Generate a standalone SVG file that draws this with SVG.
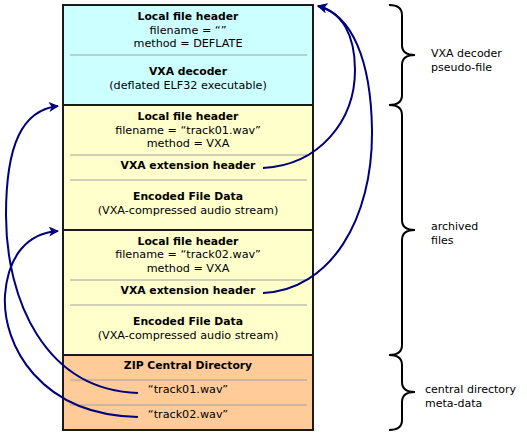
<svg xmlns="http://www.w3.org/2000/svg" width="527" height="433" viewBox="0 0 527 433">
<style>
.sec{stroke:#1a1a1a;stroke-width:2}
.sep{stroke:#a0a0a0;stroke-width:1}
.b{font-family:"DejaVu Sans",Verdana,sans-serif;font-weight:bold;font-size:10.8px;text-anchor:middle;fill:#000}
.n{font-family:"DejaVu Sans",Verdana,sans-serif;font-size:11.2px;text-anchor:middle;fill:#000}
.l{font-family:"DejaVu Sans",Verdana,sans-serif;font-size:11px;fill:#000}
.brace{fill:none;stroke:#000;stroke-width:2}
.arr{fill:none;stroke:#00007f;stroke-width:2}
</style>
<defs>
<marker id="ah" viewBox="0 0 10 10" refX="9" refY="5" markerWidth="12" markerHeight="10" markerUnits="userSpaceOnUse" orient="auto">
<path d="M0,0 L10,5 L0,10 L2.5,5 z" fill="#00007f"/>
</marker>
</defs>
<g id="decoder">
<rect class="sec" x="63" y="5" width="250" height="100" fill="#ccffff"/>
<line class="sep" x1="70" y1="55" x2="307" y2="55"/>
<text class="b" x="188" y="20">Local file header</text>
<text class="n" x="188" y="33.5">filename = “”</text>
<text class="n" x="188" y="47">method = DEFLATE</text>
<text class="b" x="188" y="75">VXA decoder</text>
<text class="n" x="188" y="89">(deflated ELF32 executable)</text>
</g>
<g id="track01">
<rect class="sec" x="63" y="105" width="250" height="125" fill="#ffffcc"/>
<line class="sep" x1="70" y1="155" x2="307" y2="155"/>
<line class="sep" x1="70" y1="180" x2="307" y2="180"/>
<text class="b" x="188" y="120">Local file header</text>
<text class="n" x="188" y="133.5">filename = “track01.wav”</text>
<text class="n" x="188" y="147">method = VXA</text>
<text class="b" x="188" y="169">VXA extension header</text>
<text class="b" x="188" y="200">Encoded File Data</text>
<text class="n" x="188" y="214">(VXA-compressed audio stream)</text>
</g>
<g id="track02">
<rect class="sec" x="63" y="230" width="250" height="125" fill="#ffffcc"/>
<line class="sep" x1="70" y1="280" x2="307" y2="280"/>
<line class="sep" x1="70" y1="305" x2="307" y2="305"/>
<text class="b" x="188" y="244.5">Local file header</text>
<text class="n" x="188" y="258">filename = “track02.wav”</text>
<text class="n" x="188" y="272">method = VXA</text>
<text class="b" x="188" y="294">VXA extension header</text>
<text class="b" x="188" y="325">Encoded File Data</text>
<text class="n" x="188" y="339">(VXA-compressed audio stream)</text>
</g>
<g id="central">
<rect class="sec" x="63" y="355" width="250" height="75" fill="#ffcc99"/>
<line class="sep" x1="70" y1="380" x2="307" y2="380"/>
<line class="sep" x1="70" y1="405" x2="307" y2="405"/>
<text class="b" x="188" y="369">ZIP Central Directory</text>
<text class="n" x="188" y="393">“track01.wav”</text>
<text class="n" x="188" y="418">“track02.wav”</text>
</g>
<g id="brace-decoder">
<path class="brace" d="M389,5 C398,5 402,8 402,15 L402,45 C402,52 406,55 415,55 C406,55 402,58 402,65 L402,95 C402,102 398,105 389,105"/>
<text class="l" x="431" y="57">VXA decoder</text>
<text class="l" x="431" y="71">pseudo-file</text>
</g>
<g id="brace-archived">
<path class="brace" d="M389,105 C398,105 402,108 402,115 L402,220 C402,227 406,230 415,230 C406,230 402,233 402,240 L402,345 C402,352 398,355 389,355"/>
<text class="l" x="431" y="230">archived</text>
<text class="l" x="431" y="244">files</text>
</g>
<g id="brace-central">
<path class="brace" d="M389,355 C398,355 402,358 402,365 L402,382 C402,389 406,392 415,392 C406,392 402,395 402,402 L402,420 C402,427 398,430 389,430"/>
<text class="l" x="425" y="393">central directory</text>
<text class="l" x="425" y="407">meta-data</text>
</g>
<g id="connectors">
<path class="arr" marker-end="url(#ah)" d="M263,168 C320,165 355,120 355,70 C355,35 342,12 318,6"/>
<path class="arr" marker-end="url(#ah)" d="M263,293 C330,290 373,220 372,130 C371,60 352,15 318,6"/>
<path class="arr" marker-end="url(#ah)" d="M138,393 C45,390 6,300 6,215 C6,145 22,110 58,106"/>
<path class="arr" marker-end="url(#ah)" d="M138,417 C40,415 2,345 5,295 C8,255 28,233 58,231"/>
</g>
</svg>
